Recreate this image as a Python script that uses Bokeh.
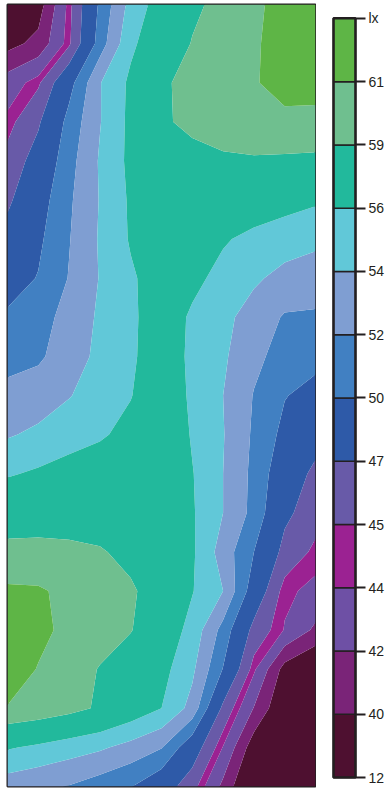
import numpy as np
from bokeh.plotting import figure
from bokeh.layouts import row
from bokeh.models import Range1d, LinearAxis, FixedTicker
from bokeh.embed import file_html
from bokeh.resources import INLINE

# contour levels (lx) and band colours, bottom to top
levels = [12, 40, 42, 44, 45, 47, 50, 52, 54, 56, 59, 61, 64]
band_colors = ["#4e1030", "#7a2478", "#6e50a5", "#9b2292", "#685aa8", "#2e5aa8",
               "#4180c2", "#7f9ed2", "#61c8d8", "#22b99c", "#6fbf8f", "#5eb546"]
unit_label = "lx"
tick_labels = [str(v) for v in levels[:-1]] + [unit_label]

# illuminance grid: rows top -> bottom, columns left -> right
illuminance = [
    [30.0, 39.0, 44.5, 50.4, 54.7, 57.0, 58.6, 59.6, 60.5, 61.9, 63.1],
    [39.3, 40.6, 44.7, 51.0, 55.6, 57.5, 59.1, 59.9, 60.7, 62.0, 62.8],
    [43.0, 44.7, 49.2, 53.9, 56.4, 58.7, 59.6, 60.2, 60.8, 61.9, 61.8],
    [44.4, 46.7, 50.7, 53.9, 56.5, 58.7, 59.5, 59.9, 60.2, 60.4, 60.4],
    [45.6, 48.0, 51.3, 54.2, 56.5, 57.5, 58.3, 58.7, 58.8, 58.7, 58.6],
    [46.6, 49.0, 51.7, 54.1, 56.3, 57.4, 57.8, 57.7, 57.2, 56.8, 56.3],
    [47.8, 49.6, 51.9, 54.2, 56.2, 57.1, 57.1, 56.2, 55.5, 54.9, 54.4],
    [49.1, 50.1, 52.1, 54.1, 55.7, 57.1, 56.5, 55.4, 54.3, 53.4, 53.1],
    [50.3, 51.2, 52.7, 54.3, 55.6, 57.2, 55.7, 54.5, 53.2, 51.8, 51.7],
    [51.3, 51.7, 53.0, 54.5, 55.6, 57.5, 55.5, 54.3, 52.5, 51.2, 50.6],
    [52.6, 53.0, 53.9, 54.9, 55.9, 57.7, 55.6, 54.0, 51.9, 50.1, 49.3],
    [53.8, 54.4, 55.1, 55.7, 56.7, 58.0, 55.8, 54.1, 51.7, 49.4, 47.9],
    [55.8, 56.3, 56.9, 57.4, 57.8, 57.7, 56.1, 54.0, 51.5, 48.4, 46.5],
    [57.8, 57.8, 57.9, 57.8, 57.5, 57.1, 56.2, 54.0, 51.4, 47.5, 45.8],
    [59.6, 59.7, 59.5, 59.2, 58.4, 57.4, 56.3, 53.1, 50.0, 46.3, 44.6],
    [61.3, 61.2, 60.6, 59.9, 59.3, 57.9, 56.1, 54.0, 48.8, 44.3, 43.6],
    [62.4, 61.5, 60.5, 59.8, 59.1, 57.5, 55.3, 51.3, 46.3, 43.9, 41.6],
    [62.1, 60.9, 59.9, 58.9, 57.8, 56.7, 54.4, 49.9, 44.3, 39.2, 37.6],
    [60.9, 60.4, 59.7, 58.7, 57.4, 56.0, 53.3, 46.5, 41.9, 38.0, 34.0],
    [56.2, 55.6, 54.9, 54.3, 53.3, 52.1, 48.4, 43.9, 38.8, 33.0, 32.0],
    [52.9, 52.4, 51.9, 51.0, 50.1, 48.3, 45.7, 41.5, 37.0, 32.0, 31.0],
]

z = np.array(illuminance)
ny, nx = z.shape
xs = np.arange(nx)
ys = np.arange(ny)

DARK = "#231f20"

p = figure(width=316, height=790, x_range=Range1d(0, nx - 1), y_range=Range1d(ny - 1, 0),
           output_backend="svg", toolbar_location=None,
           min_border_left=7, min_border_right=1, min_border_top=4, min_border_bottom=4,
           x_axis_location=None, y_axis_location=None)
p.grid.visible = False
p.contour(xs, ys, z, levels, fill_color=band_colors, line_color=None)
p.outline_line_color = DARK
p.outline_line_width = 2
p.outline_line_alpha = 1.0

nb = len(band_colors)
cb = figure(frame_width=26, height=790,
            x_range=Range1d(-0.0909, 1.0909), y_range=Range1d(-0.1408, nb + 0.219),
            output_backend="svg", toolbar_location=None,
            min_border_left=15, min_border_right=0, min_border_top=0, min_border_bottom=0,
            x_axis_location=None, y_axis_location=None)
cb.grid.visible = False
cb.outline_line_color = None
idx = np.arange(nb)
cb.quad(left=0, right=1, bottom=idx, top=idx + 1, fill_color=band_colors,
        line_color=DARK, line_width=1.5)
cb.quad(left=0, right=1, bottom=0, top=nb, fill_color=None, line_color=DARK, line_width=2.5)

ax = LinearAxis(ticker=FixedTicker(ticks=list(range(len(tick_labels)))),
                major_label_overrides={i: t for i, t in enumerate(tick_labels)})
ax.axis_line_color = None
ax.major_tick_in = 2
ax.major_tick_out = 8
ax.major_tick_line_color = DARK
ax.major_tick_line_width = 2
ax.minor_tick_line_color = None
ax.major_label_text_font = "Liberation Sans"
ax.major_label_text_font_size = "14px"
ax.major_label_text_color = DARK
ax.major_label_standoff = 3
cb.add_layout(ax, "right")

layout = row(p, cb)
open("out.html", "w").write(file_html(layout, INLINE))
